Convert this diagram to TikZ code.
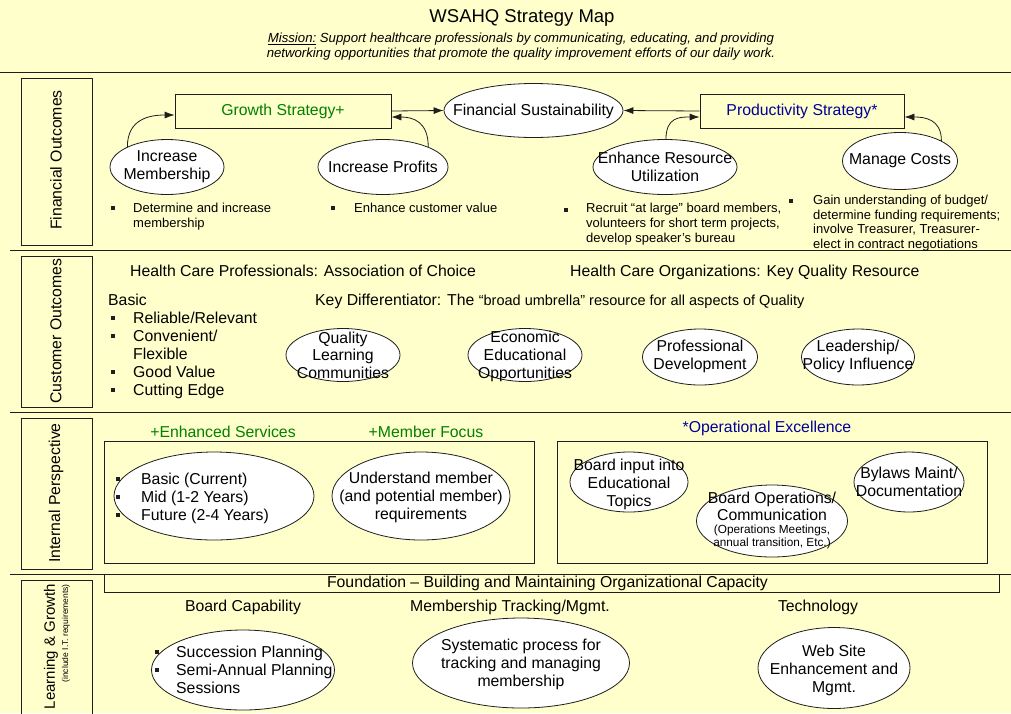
\documentclass[tikz,border=0pt]{standalone}
\usepackage{fontspec}
\setmainfont{Liberation Sans}
\usetikzlibrary{shapes.geometric,arrows.meta}
\definecolor{bg}{RGB}{255,255,204}
\definecolor{grn}{RGB}{0,128,0}
\definecolor{blu}{RGB}{0,0,150}
\definecolor{ln}{RGB}{30,30,30}
\newcommand\bul[2]{\fill[ln] (#1-2,#2-2) rectangle ++(4,4);}
\begin{document}
\begin{tikzpicture}[x=1pt,y=-1pt,
  oval/.style={ellipse,draw=ln,fill=white,inner sep=0pt,line width=0.8pt},
  box/.style={draw=ln,line width=0.8pt,inner sep=0pt},
  frame/.style={draw=ln,line width=0.8pt},
  sep/.style={draw=ln,line width=1pt},
  txt/.style={font=\fontsize{15.8}{18}\selectfont,align=center,inner sep=0pt},
  txtb/.style={font=\fontsize{15.8}{18}\selectfont,inner sep=0pt,anchor=base west},
  small/.style={font=\fontsize{13}{15}\selectfont,align=left,inner sep=0pt,anchor=north west},
  arr/.style={-{Latex[length=10pt,width=7pt]},draw=ln,line width=0.8pt}
]
\fill[bg] (0,0) rectangle (1011,713);
\useasboundingbox (0,0) rectangle (1011,713);

% title
\node[font=\fontsize{18.5}{22}\selectfont,inner sep=0pt] (title) at (522,18) {WSAHQ Strategy Map};
\node[font=\fontsize{13.2}{15}\selectfont\itshape,align=center,inner sep=0pt] (mission) at (521,47)
  {\underline{Mission:} Support healthcare professionals by communicating, educating, and providing\\networking opportunities that promote the quality improvement efforts of our daily work.};

% separators
\draw[sep] (0,72) -- (1011,72);
\draw[sep] (10,250) -- (1011,250);
\draw[sep] (10,412) -- (1011,412);
\draw[sep] (10,574) -- (1011,574);

% left labels
\draw[frame] (21,78) rectangle (92,245);
\draw[frame] (21,256) rectangle (92,407);
\draw[frame] (21,418) rectangle (92,569);
\draw[frame] (21,716) -- (21,580) -- (92,580) -- (92,716);
\node[txt,rotate=90] (l1) at (56,160) {Financial Outcomes};
\node[txt,rotate=90] (l2) at (56,331) {Customer Outcomes};
\node[txt,rotate=90] (l3) at (56,493) {Internal Perspective};
\node[font=\fontsize{15}{17}\selectfont,inner sep=0pt,rotate=90,anchor=east] (l4) at (51,584) {Learning \& Growth};
\node[font=\fontsize{8.5}{10}\selectfont,inner sep=0pt,rotate=90,anchor=east] (l4b) at (66,584) {(include I.T. requirements)};

% ---------- Financial outcomes
\node[box,minimum width=216,minimum height=34,txt,text=grn] (gs) at (283,111) {Growth Strategy+};
\node[box,minimum width=204,minimum height=34,txt,text=blu] (ps) at (802,111) {Productivity Strategy*};
\node[oval,minimum width=179,minimum height=54] (fs) at (533.5,110.5) {};
\node[txt] (fst) at (533.5,111.5) {Financial Sustainability};
\node[oval,minimum width=114,minimum height=55] (im) at (167,167) {};
\node[txt] (imt) at (167,167) {Increase\\Membership};
\node[oval,minimum width=130,minimum height=55] (ip) at (383,167) {};
\node[txt] (ipt) at (ip) {Increase Profits};
\node[oval,minimum width=144,minimum height=55] (er) at (665,167) {};
\node[txt] (ert) at (er) {Enhance Resource\\Utilization};
\node[oval,minimum width=115,minimum height=57] (mc) at (900,161) {};
\node[txt] (mct) at (mc) {Manage Costs};

\draw[arr] (gs.east) -- (fs.west);
\draw[arr] (ps.west) -- (fs.east);
\draw[arr] (im.153) .. controls +(0,-28) and +(-25,0) .. ([yshift=-4pt]gs.west);
\draw[arr] (ip.24) .. controls +(0,-25) and +(22,0) .. ([yshift=-6pt]gs.east);
\draw[arr] (er.88) .. controls +(0,-22) and +(-20,0) .. ([yshift=-6pt]ps.west);
\draw[arr] (mc.26) .. controls +(0,-22) and +(20,0) .. ([yshift=-6pt]ps.east);

\bul{112.5}{207.5}
\node[small] (b1) at (133,203) {Determine and increase\\membership};
\bul{333}{207.5}
\node[small] (b2) at (354,203) {Enhance customer value};
\bul{566}{210}
\node[small] (b3) at (586,203) {Recruit “at large” board members,\\volunteers for short term projects,\\develop speaker’s bureau};
\bul{791}{201}
\node[small,font=\fontsize{13}{14.5}\selectfont] (b4) at (813,195) {Gain understanding of budget/\\determine funding requirements;\\involve Treasurer, Treasurer-\\elect in contract negotiations};

% ---------- Customer outcomes
\node[txtb] (hcp) at (130,276.5) {Health Care Professionals: Association of Choice};
\node[txtb] (hco) at (570,276.5) {Health Care Organizations: Key Quality Resource};
\node[txtb] (basic) at (108,305) {Basic};
\bul{112.5}{318}
\node[txtb] (c1) at (133,323) {Reliable/Relevant};
\bul{112.5}{336}
\node[txtb] (c2) at (133,341) {Convenient/};
\node[txtb] (c3) at (133,359) {Flexible};
\bul{112.5}{372}
\node[txtb] (c4) at (133,377) {Good Value};
\bul{112.5}{390}
\node[txtb] (c5) at (133,395) {Cutting Edge};
\node[txtb] (kd) at (315,305) {Key Differentiator: The {\fontsize{14.5}{17}\selectfont “broad umbrella” resource for all aspects of Quality}};

\node[oval,minimum width=114,minimum height=53] (qlc) at (343,355) {};
\node[txt,font=\fontsize{15.8}{17.5}\selectfont] (qlct) at (qlc) {Quality\\Learning\\Communities};
\node[oval,minimum width=114,minimum height=53] (eeo) at (525,355) {};
\node[txt] (eeot) at (525,356) {Economic\\Educational\\Opportunities};
\node[oval,minimum width=115,minimum height=56] (pd) at (700,357) {};
\node[txt] (pdt) at (700,356.5) {Professional\\Development};
\node[oval,minimum width=113,minimum height=56] (lpi) at (858,357) {};
\node[txt] (lpit) at (858,356.5) {Leadership/\\Policy Influence};

% ---------- Internal perspective
\node[txt,text=grn] (es) at (223,432) {+Enhanced Services};
\node[txt,text=grn] (mf) at (426,432) {+Member Focus};
\node[txt,text=blu] (oe) at (767,428) {*Operational Excellence};
\draw[frame] (104,441) rectangle (534,563);
\draw[frame] (557,441) rectangle (987,563);

\node[oval,minimum width=200,minimum height=88] (bmf) at (214,496) {};
\bul{118}{479}
\node[txtb] (i1) at (141,484) {Basic (Current)};
\bul{118}{497}
\node[txtb] (i2) at (141,502) {Mid (1-2 Years)};
\bul{118}{515}
\node[txtb] (i3) at (141,520) {Future (2-4 Years)};
\node[oval,minimum width=178,minimum height=88] (um) at (421,496) {};
\node[txt] (umt) at (421,497) {Understand member\\(and potential member)\\requirements};

\node[oval,minimum width=118,minimum height=60] (bi) at (629,482) {};
\node[txt] (bit) at (629,484) {Board input into\\Educational\\Topics};
\node[oval,minimum width=151,minimum height=72] (bo) at (772,521) {};
\node[txt,font=\fontsize{15.8}{16.5}\selectfont] (bot) at (772,506.5) {Board Operations/\\Communication};
\node[txt,font=\fontsize{11.8}{13}\selectfont] (bos) at (772,537) {(Operations Meetings,\\annual transition, Etc.)};
\node[oval,minimum width=110,minimum height=60] (bl) at (909,482) {};
\node[txt] (blt) at (909,482) {Bylaws Maint/\\Documentation};

% ---------- Learning & growth
\draw[frame] (104,574) rectangle (999,592);
\node[txt] (fd) at (547.5,583) {Foundation – Building and Maintaining Organizational Capacity};
\node[txt] (bc) at (243,607) {Board Capability};
\node[txt] (mt) at (510,607) {Membership Tracking/Mgmt.};
\node[txt] (te) at (818,607) {Technology};

\node[oval,minimum width=183,minimum height=80] (sp) at (243,670) {};
\bul{157}{652}
\node[txtb] (s1) at (176,657) {Succession Planning};
\bul{157}{670}
\node[txtb] (s2) at (176,675) {Semi-Annual Planning};
\node[txtb] (s3) at (176,693) {Sessions};
\node[oval,minimum width=217,minimum height=90] (sy) at (521,663) {};
\node[txt] (syt) at (521,664) {Systematic process for\\tracking and managing\\membership};
\node[oval,minimum width=152,minimum height=81] (ws) at (834,668) {};
\node[txt] (wst) at (834,670) {Web Site\\Enhancement and\\Mgmt.};
\end{tikzpicture}
\end{document}
